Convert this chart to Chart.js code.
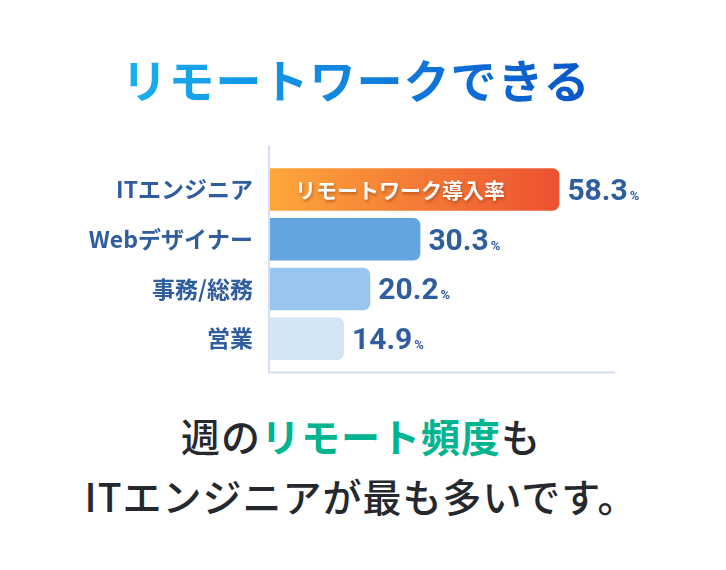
<!DOCTYPE html>
<html lang="ja">
<head>
<meta charset="utf-8">
<script src="https://cdn.jsdelivr.net/npm/chart.js@4.4.1/dist/chart.umd.min.js"></script>
<style>
  html, body { margin: 0; padding: 0; background: #ffffff; }
  body { width: 726px; height: 570px; position: relative; overflow: hidden; font-family: 'Noto Sans CJK JP', sans-serif; }
  #title {
    position: absolute; left: 0; top: 48px; width: 712px; text-align: center;
    font-size: 46px; font-weight: 700; line-height: 60px; letter-spacing: 1px;
  }
  #title span { background: linear-gradient(90deg, #18b0f2, #0a55c9); -webkit-background-clip: text; background-clip: text; color: transparent; }
  #chartBox { position: absolute; left: 0; top: 130px; width: 726px; height: 270px; }
  .msg { position: absolute; left: 0; width: 722px; text-align: center; font-size: 39px; line-height: 60px; color: #25282d; font-weight: 500; letter-spacing: 1px; }
  #msg1 { top: 405px; }
  #msg2 { top: 465px; }
  .hl { color: #00b490; font-weight: 700; }
</style>
</head>
<body>
<div id="title"><span>リモートワークできる</span></div>
<div id="chartBox"><canvas id="c"></canvas></div>
<div class="msg" id="msg1">週の<span class="hl">リモート頻度</span>も</div>
<div class="msg" id="msg2">ITエンジニアが最も多いです。</div>
<script>
const categories = ['ITエンジニア', 'Webデザイナー', '事務/総務', '営業'];
const remoteRates = [58.3, 30.3, 20.2, 14.9];
const barColors = ['gradient', '#62a5e1', '#99c6ef', '#d3e4f4'];
const valueUnit = '%';
const barInnerLabel = 'リモートワーク導入率';

const textBlue = '#2f5d9e';
const axisColor = '#d5dff0';

const decoPlugin = {
  id: 'deco',
  beforeDatasetsDraw(chart) {
    const { ctx, chartArea } = chart;
    ctx.save();
    ctx.strokeStyle = axisColor;
    ctx.lineWidth = 2;
    ctx.beginPath();
    ctx.moveTo(chartArea.left - 1, chartArea.top - 19);
    ctx.lineTo(chartArea.left - 1, chartArea.bottom + 9);
    ctx.lineTo(chartArea.right, chartArea.bottom + 9);
    ctx.stroke();
    ctx.restore();
  },
  afterDatasetsDraw(chart) {
    const { ctx } = chart;
    const meta = chart.getDatasetMeta(0);
    ctx.save();
    meta.data.forEach((bar, i) => {
      const v = remoteRates[i].toFixed(1);
      const x = bar.x + 8;
      const base = bar.y + 10.5;
      ctx.fillStyle = textBlue;
      ctx.textBaseline = 'alphabetic';
      ctx.textAlign = 'left';
      ctx.font = '700 30px Roboto';
      ctx.fillText(v, x, base);
      const w = ctx.measureText(v).width;
      ctx.font = '700 13px Roboto';
      ctx.fillText(valueUnit, x + w + 2, base);
    });
    const b0 = meta.data[0];
    ctx.font = "700 21px 'Noto Sans CJK JP'";
    ctx.textBaseline = 'middle';
    ctx.textAlign = 'left';
    ctx.shadowColor = 'rgba(120,40,0,0.45)';
    ctx.shadowBlur = 3;
    ctx.shadowOffsetX = 1;
    ctx.shadowOffsetY = 1.5;
    ctx.fillStyle = '#ffffff';
    ctx.fillText(barInnerLabel, chart.chartArea.left + 25, b0.y + 1);
    ctx.restore();
  }
};

const ctx = document.getElementById('c').getContext('2d');
new Chart(ctx, {
  type: 'bar',
  data: {
    labels: categories,
    datasets: [{
      data: remoteRates,
      backgroundColor(context) {
        const i = context.dataIndex;
        const col = barColors[i];
        if (col !== 'gradient') return col;
        const chart = context.chart;
        const area = chart.chartArea;
        if (!area) return '#f58a36';
        const xEnd = chart.scales.x.getPixelForValue(remoteRates[i]);
        const g = chart.ctx.createLinearGradient(area.left, 0, xEnd, 0);
        g.addColorStop(0, '#fda73a');
        g.addColorStop(1, '#ec5131');
        return g;
      },
      borderWidth: 0,
      borderRadius: 7,
      borderSkipped: 'start',
      categoryPercentage: 1,
      barPercentage: 0.855
    }]
  },
  options: {
    indexAxis: 'y',
    responsive: true,
    maintainAspectRatio: false,
    animation: false,
    layout: { padding: { top: 34.6, bottom: 36.4, right: 111, left: 0 } },
    plugins: { legend: { display: false }, tooltip: { enabled: false }, title: { display: false } },
    scales: {
      x: { display: false, min: 0, max: 69.5 },
      y: {
        afterFit(scale) { scale.width = 270; },
        grid: { display: false, drawTicks: false },
        border: { display: false },
        ticks: {
          color: textBlue,
          padding: 17,
          font: { family: "'Noto Sans CJK JP'", size: 23, weight: '700' }
        }
      }
    }
  },
  plugins: [decoPlugin]
});
</script>
</body>
</html>
